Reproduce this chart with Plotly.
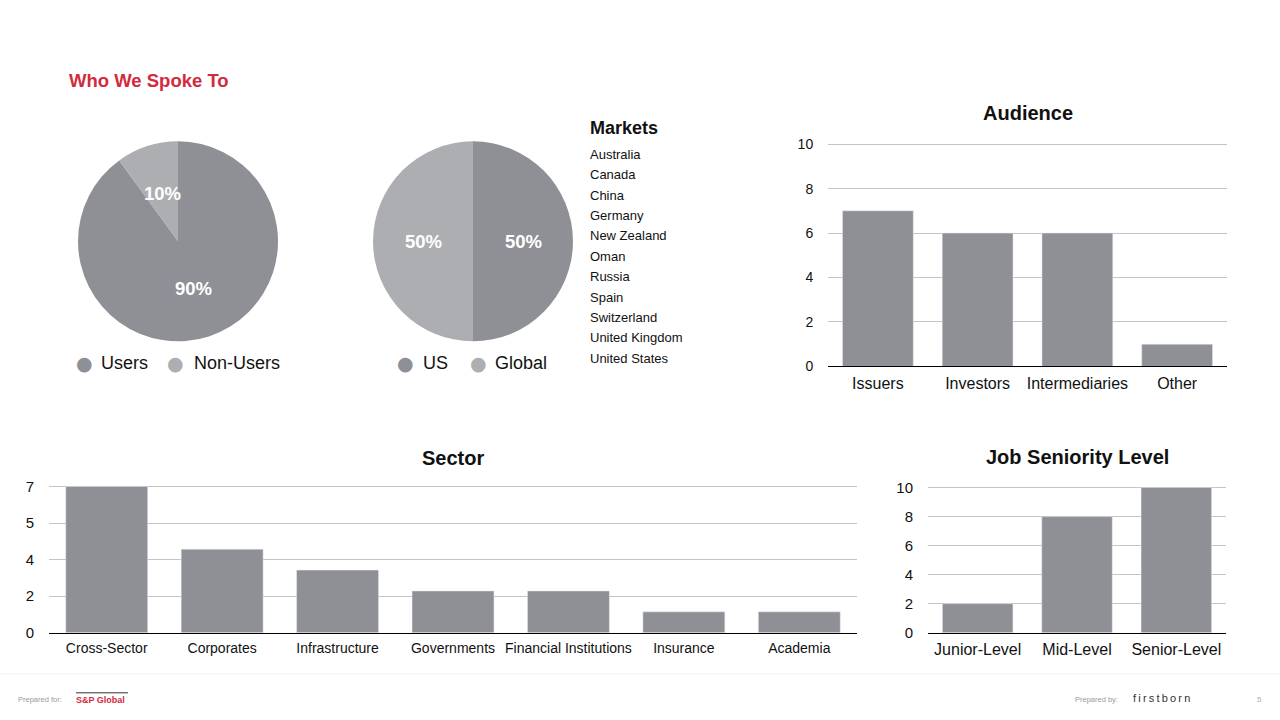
import math
import plotly.graph_objects as go

W, H = 1280, 720
# measured rendering transform of the capture: screen_y = S * fig_y + M
S, M = 0.978, 8.0


def px(x):
    return x / W


def py(y):
    return 1 - ((y - M) / S) / H


# ---------------- data ----------------
users_labels = ["Users", "Non-Users"]
users_values = [90, 10]

region_labels = ["US", "Global"]
region_values = [50, 50]

markets = ["Australia", "Canada", "China", "Germany", "New Zealand", "Oman",
           "Russia", "Spain", "Switzerland", "United Kingdom", "United States"]

audience_cats = ["Issuers", "Investors", "Intermediaries", "Other"]
audience_vals = [7, 6, 6, 1]
audience_ticks = [0, 2, 4, 6, 8, 10]

sector_cats = ["Cross-Sector", "Corporates", "Infrastructure", "Governments",
               "Financial Institutions", "Insurance", "Academia"]
sector_vals = [7, 4, 3, 2, 2, 1, 1]
sector_tickvals = [0, 1.75, 3.5, 5.25, 7]
sector_ticktext = ["0", "2", "4", "5", "7"]

job_cats = ["Junior-Level", "Mid-Level", "Senior-Level"]
job_vals = [2, 8, 10]
job_ticks = [0, 2, 4, 6, 8, 10]

# ---------------- style ----------------
DARK = "#8e9095"
LIGHT = "#adaeb1"
RED = "#d22a3e"
GRID = "#c4c4c4"
FONT = "Liberation Sans, Arial, Helvetica, sans-serif"

fig = go.Figure()
annotations = []


def text(x, y, s, size, color="#111", bold=False, xanchor="left", yanchor="middle",
         family=FONT):
    annotations.append(dict(
        x=px(x), y=py(y), xref="paper", yref="paper", showarrow=False,
        text=f"<b>{s}</b>" if bold else s, xanchor=xanchor, yanchor=yanchor,
        font=dict(size=size, color=color, family=family)))


def add_pie(labels, values, cx, cy, r):
    fig.add_trace(go.Pie(
        labels=labels, values=values, sort=False, direction="clockwise",
        rotation=0, marker=dict(colors=[DARK, LIGHT], line=dict(width=0)),
        textinfo="none",
        domain=dict(x=[px(cx - r), px(cx + r)], y=[py(cy + r), py(cy - r)]),
        showlegend=False, hoverinfo="label+percent"))
    total = sum(values)
    cum = 0
    for v in values:
        theta = math.radians(360 * (cum + v / 2) / total)
        cum += v
        tx = cx + 0.5 * r * math.sin(theta)
        ty = cy - 0.5 * r * math.cos(theta)
        text(tx, ty, f"{round(100 * v / total)}%", 18.5, "white", bold=True,
             xanchor="center")


add_pie(users_labels, users_values, 178, 242, 100)
add_pie(region_labels, region_values, 473, 242, 100)

# bars
fig.add_trace(go.Bar(x=audience_cats, y=audience_vals, marker_color=DARK,
                     xaxis="x", yaxis="y", showlegend=False))
fig.add_trace(go.Bar(x=sector_cats, y=sector_vals, marker_color=DARK,
                     xaxis="x2", yaxis="y2", showlegend=False))
fig.add_trace(go.Bar(x=job_cats, y=job_vals, marker_color=DARK,
                     xaxis="x3", yaxis="y3", showlegend=False))


def xax(x0, x1, anchor, size):
    return dict(domain=[px(x0), px(x1)], anchor=anchor, showline=True,
                linecolor="black", linewidth=1, showgrid=False, zeroline=False,
                ticks="outside", ticklen=2, tickcolor="rgba(0,0,0,0)",
                tickfont=dict(size=size, color="#111", family=FONT), fixedrange=True)


def yax(ybot, ytop, anchor, vmax, tickvals, ticktext, size):
    # extend range a little so the top gridline is drawn; keep vmax at ytop
    ext = 1.01
    top_px = ybot - (ybot - ytop) * ext
    return dict(domain=[py(ybot), py(top_px)], anchor=anchor, range=[0, vmax * ext],
                tickmode="array", tickvals=tickvals, ticktext=ticktext,
                showgrid=True, gridcolor=GRID, gridwidth=1, zeroline=False,
                showline=False, ticks="outside", ticklen=11,
                tickcolor="rgba(0,0,0,0)",
                tickfont=dict(size=size, color="#111", family=FONT), fixedrange=True)


text(67, 81, "Who We Spoke To", 18.5, RED, bold=True)
text(1028, 114, "Audience", 20, bold=True, xanchor="center")
text(453, 458, "Sector", 20, bold=True, xanchor="center")
text(1077, 457, "Job Seniority Level", 20, bold=True, xanchor="center")

# Markets list
text(588, 129, "Markets", 18, bold=True)
for i, m in enumerate(markets):
    text(588, 155 + i * 20.4, m, 13)


# legends for pies
def legend_item(xdot, xtext, label, color):
    text(xdot, 364, "●", 19, color, xanchor="center", family="DejaVu Sans")
    text(xtext, 364, label, 18)


legend_item(84, 99, users_labels[0], DARK)
legend_item(175, 192, users_labels[1], LIGHT)
legend_item(405, 421, region_labels[0], DARK)
legend_item(478, 493, region_labels[1], LIGHT)

# footer
text(16, 700, "Prepared for:", 7.5, "#9a9a9a")
text(74, 700, "S&P Global", 9, RED, bold=True)
text(1073, 700, "Prepared by:", 7.5, "#9a9a9a")
text(1131, 698, "\u2009".join("firstborn"), 11, "#333")
text(1255, 700, "5", 8, "#aaaaaa")

shapes = [
    dict(type="line", xref="paper", yref="paper", x0=px(76), x1=px(128),
         y0=py(693), y1=py(693), line=dict(color="#333", width=1)),
    dict(type="line", xref="paper", yref="paper", x0=0, x1=1,
         y0=py(674), y1=py(674), line=dict(color="#f2f2f2", width=1)),
]

fig.update_layout(
    width=W, height=H, autosize=False,
    margin=dict(l=0, r=0, t=0, b=0),
    paper_bgcolor="white", plot_bgcolor="white",
    font=dict(family=FONT, color="#111"),
    bargap=0.29,
    xaxis=xax(828, 1227, "y", 16),
    yaxis=yax(367, 145, "x", 10, audience_ticks,
              [str(t) for t in audience_ticks], 14),
    xaxis2=xax(49, 857, "y2", 14),
    yaxis2=yax(633, 487, "x2", 7, sector_tickvals, sector_ticktext, 15),
    xaxis3=xax(928, 1226, "y3", 16),
    yaxis3=yax(633, 488, "x3", 10, job_ticks, [str(t) for t in job_ticks], 15),
    annotations=annotations,
    shapes=shapes,
)

fig.write_html("out.html")
